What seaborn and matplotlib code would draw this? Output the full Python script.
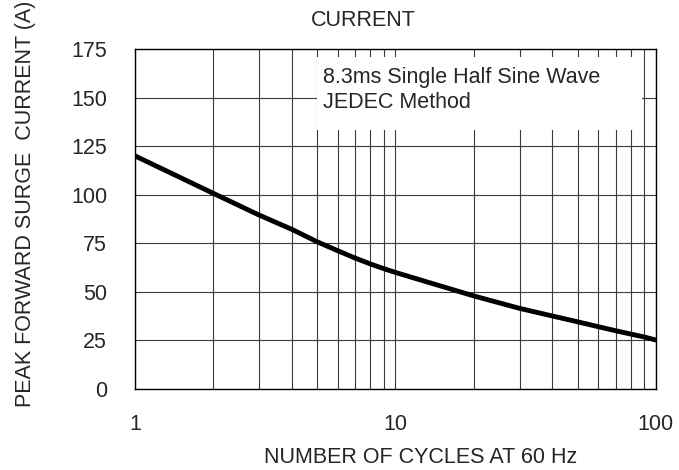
"""Peak forward surge current vs number of cycles (datasheet-style curve)."""

import matplotlib

matplotlib.use("Agg")
import matplotlib.pyplot as plt
import matplotlib.patches as mpatches
import pandas as pd
import seaborn as sns

# Valores
cycles = [1, 2, 3, 4, 5, 6, 7, 8, 9, 10, 20, 30, 40, 50, 60, 70, 80, 90, 100]
surge_current = [120.0, 100.7, 89.5, 82.2, 75.8, 71.2, 67.4, 64.4, 62.0, 60.0,
                 47.9, 41.5, 37.6, 34.6, 32.1, 30.0, 28.3, 26.8, 25.2]
y_ticks = [0, 25, 50, 75, 100, 125, 150, 175]
x_ticks = [1, 10, 100]
x_tick_labels = ["1", "10", "100"]

FS = 15.5

sns.set_style("white")
plt.rcParams["font.family"] = ["Liberation Sans", "DejaVu Sans"]

df = pd.DataFrame({"CYCLES": cycles, "IFSM": surge_current})

fig = plt.figure(figsize=(6.79, 4.70), dpi=100)
ax = fig.add_axes([0.1988, 0.1723, 0.7672, 0.7234])

sns.lineplot(data=df, x="CYCLES", y="IFSM", color="black", linewidth=3.5,
             ax=ax, zorder=3)

ax.set_xscale("log")
ax.set_xlim(1, 100)
ax.set_ylim(0, 175)
ax.set_xticks(x_ticks)
ax.set_xticklabels(x_tick_labels)
ax.set_yticks(y_ticks)
ax.set_axisbelow(True)
ax.grid(True, which="both", color="#3a3a3a", linewidth=0.8)
ax.tick_params(axis="both", which="both", length=0, labelsize=FS)
ax.tick_params(axis="x", pad=18)
ax.tick_params(axis="y", pad=20)
for sp in ax.spines.values():
    sp.set_color("black")
    sp.set_linewidth(1.0)

ax.set_xlabel("NUMBER OF CYCLES AT 60 Hz", fontsize=FS, va="center")
ax.xaxis.set_label_coords(0.548, -0.2)
ax.set_ylabel("PEAK FORWARD SURGE  CURRENT (A)", fontsize=FS, va="center")
ax.yaxis.set_label_coords(-0.211, 0.545)

# caixa branca da nota (cobre a grade)
ax.add_patch(mpatches.Rectangle((0.349, 0.762), 0.624, 0.214,
                                transform=ax.transAxes, facecolor="white",
                                edgecolor="none", zorder=1))
ax.text(0.361, 0.948, "8.3ms Single Half Sine Wave\nJEDEC Method",
        transform=ax.transAxes, fontsize=FS, va="top", ha="left",
        linespacing=1.25, zorder=2)

fig.text(0.535, 0.957, "CURRENT", fontsize=FS, ha="center", va="center")

fig.savefig("out.png", dpi=100)
